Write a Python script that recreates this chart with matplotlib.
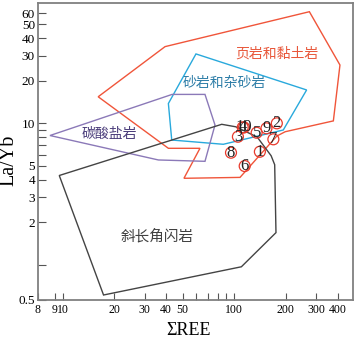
import matplotlib.pyplot as plt

plt.rcParams['font.family'] = ['Liberation Serif', 'DejaVu Serif']
CJK = ['Noto Sans CJK SC', 'DejaVu Sans']

# field boundaries as (ΣREE, La/Yb) vertices
shale_ree = [16.1, 39.5, 274, 413, 378, 198, 177, 108, 50.9, 63.1, 41.3]
shale_layb = [15.4, 34.8, 61.4, 25.8, 10.4, 8.72, 8.13, 4.15, 4.09, 6.66, 6.66]

sand_ree = [59.8, 264, 193, 86.3, 43.2, 41.3]
sand_layb = [30.9, 17.2, 8.97, 7.11, 7.62, 13.8]

carb_ree = [8.43, 43.4, 67.5, 77.2, 67.5, 36.1]
carb_layb = [8.20, 16.0, 16.0, 9.73, 5.39, 5.51]

amph_ree = [9.55, 84.5, 102, 136, 164, 172, 175, 110, 17.3]
amph_layb = [4.28, 9.84, 9.45, 8.0, 5.9, 5.1, 1.69, 0.97, 0.613]

# samples
sample_ids = ['1', '2', '3', '4', '5', '6', '7', '8', '9', '10']
sample_ree = [141, 177, 105, 112, 135, 115, 169, 95.7, 154, 114]
sample_layb = [6.30, 10.0, 8.04, 9.35, 8.58, 4.99, 7.71, 6.20, 9.22, 9.35]

fields = [
    (shale_ree, shale_layb, '#f0553a'),
    (sand_ree, sand_layb, '#29a9dc'),
    (carb_ree, carb_layb, '#8b79b8'),
    (amph_ree, amph_layb, '#444444'),
]

fig = plt.figure(figsize=(3.57, 3.40), dpi=100)
ax = fig.add_axes([0.1056, 0.1176, 0.8832, 0.8727])

for xs, ys, c in fields:
    ax.fill(xs, ys, facecolor='none', edgecolor=c, lw=1.0)

ax.scatter(sample_ree, sample_layb, s=62, facecolors='none',
           edgecolors='#e8392b', linewidths=0.9, zorder=3)
for sid, x, y in zip(sample_ids, sample_ree, sample_layb):
    ax.text(x, y, sid, ha='center', va='center', fontsize=12,
            color='#222222', zorder=4)

ax.text(178, 30.9, '页岩和黏土岩', family=CJK, fontsize=10,
        color='#e8573a', ha='center', va='center')
ax.text(88, 19.3, '砂岩和杂砂岩', family=CJK, fontsize=10,
        color='#2f7ea8', ha='center', va='center')
ax.text(18.6, 8.36, '碳酸盐岩', family=CJK, fontsize=10,
        color='#4a3c7a', ha='center', va='center')
ax.text(35.7, 1.60, '斜长角闪岩', family=CJK, fontsize=10.5,
        color='#404040', ha='center', va='center')

ax.set_xscale('log')
ax.set_yscale('log')
ax.set_xlim(7.15, 492)
ax.set_ylim(0.565, 70.4)

xt = [7.16, 9, 10, 20, 30, 40, 50, 100, 200, 300, 400]
xl = ['8', '9', '10', '20', '30', '40', '50', '100', '200', '300', '400']
ax.set_xticks(xt, xl)
ax.set_xticks([60, 70, 80, 90], minor=True)
ax.set_xticklabels([], minor=True)

yt = [0.566, 2, 3, 4, 5, 10, 20, 30, 40, 50, 60]
yl = ['0.5', '2', '3', '4', '5', '10', '20', '30', '40', '50', '60']
ax.set_yticks(yt, yl)
ax.set_yticks([1, 6, 7, 8, 9], minor=True)
ax.set_yticklabels([], minor=True)

ax.tick_params(axis='x', which='both', direction='in', length=5,
               width=0.8, labelsize=8.5, pad=3, color='#555555')
ax.tick_params(axis='y', which='both', direction='in', length=6,
               width=0.8, labelsize=9.5, pad=2, color='#555555')

for sp in ax.spines.values():
    sp.set_color('#808080')
    sp.set_linewidth(1.3)

ax.set_xlabel('ΣREE', fontsize=13)
ax.xaxis.set_label_coords(0.477, -0.073)
ax.set_ylabel('La/Yb', fontsize=14.5, va='center')
ax.yaxis.set_label_coords(-0.092, 0.47)

fig.savefig('out.png', dpi=100)
